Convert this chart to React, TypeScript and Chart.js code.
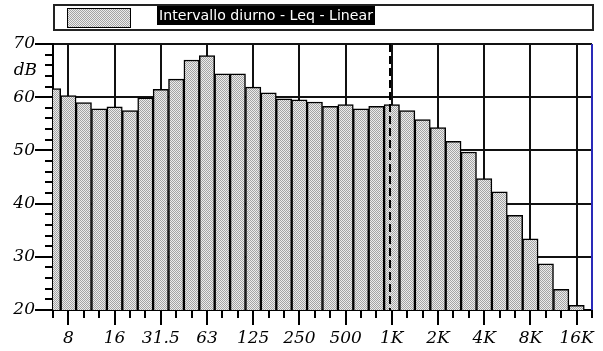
import React, { useEffect, useRef } from 'react';
import { Chart, registerables } from 'chart.js';

Chart.register(...registerables);

// One-third-octave band names (x positions are band indices); 20K closes the axis
const bands = ['6.3', '8', '10', '12.5', '16', '20', '25', '31.5', '40', '50', '63', '80', '100', '125', '160', '200', '250', '315', '400', '500', '630', '800', '1K', '1.25K', '1.6K', '2K', '2.5K', '3.15K', '4K', '5K', '6.3K', '8K', '10K', '12.5K', '16K', '20K'];
// Leq (dB, linear) per band, 6.3 Hz .. 16 kHz
const levels = [61.6, 60.3, 59.0, 57.8, 58.2, 57.5, 59.9, 61.5, 63.4, 67.0, 67.8, 64.4, 64.4, 61.9, 60.8, 59.7, 59.5, 59.1, 58.3, 58.6, 57.8, 58.3, 58.6, 57.5, 55.8, 54.3, 51.7, 49.7, 44.7, 42.2, 37.8, 33.4, 28.7, 23.9, 20.9];
const octaveLabels = ['8', '16', '31.5', '63', '125', '250', '500', '1K', '2K', '4K', '8K', '16K'];
const yMin = 20;
const yMax = 70;
const yStep = 10;
const yMinorStep = 2;
const unitLabel = 'dB';
const unitAt = 65;
const seriesLabel = 'Intervallo diurno - Leq - Linear';
const markerBand = '1K';

function makePattern(): CanvasPattern | string {
  const c = document.createElement('canvas');
  c.width = 2;
  c.height = 2;
  const g = c.getContext('2d');
  if (!g) return '#c4c4c4';
  g.fillStyle = '#ececec';
  g.fillRect(0, 0, 2, 2);
  g.fillStyle = '#a4a4a4';
  g.fillRect(0, 0, 1, 1);
  g.fillRect(1, 1, 1, 1);
  const p = g.createPattern(c, 'repeat');
  return p || '#c4c4c4';
}

const FONT = 'DejaVu Serif';

export default function App() {
  const ref = useRef<HTMLCanvasElement | null>(null);

  useEffect(() => {
    const canvas = ref.current;
    if (!canvas) return;
    const pattern = makePattern();

    const decor = {
      id: 'decor',
      afterDatasetsDraw(chart: any) {
        const { ctx, chartArea, scales } = chart;
        const x = scales.x;
        ctx.save();
        // dashed marker at 1K
        const mx = Math.round(x.getPixelForValue(bands.indexOf(markerBand)) - 2);
        ctx.strokeStyle = '#000';
        ctx.lineWidth = 2;
        ctx.setLineDash([8, 4]);
        ctx.beginPath();
        ctx.moveTo(mx, chartArea.top);
        ctx.lineTo(mx, chartArea.bottom);
        ctx.stroke();
        ctx.setLineDash([]);
        // blue right border
        ctx.strokeStyle = '#2a2ab8';
        ctx.lineWidth = 2;
        ctx.beginPath();
        ctx.moveTo(chartArea.right, chartArea.top);
        ctx.lineTo(chartArea.right, chartArea.bottom);
        ctx.stroke();
        ctx.restore();
      },
      afterDraw(chart: any) {
        const { ctx, chartArea, scales } = chart;
        const x = scales.x;
        const y = scales.y;
        ctx.save();
        ctx.strokeStyle = '#000';
        ctx.lineWidth = 2;
        ctx.beginPath();
        // minor x ticks at every band
        for (let i = 0; i < bands.length; i++) {
          const px = Math.round(x.getPixelForValue(i));
          ctx.moveTo(px, chartArea.bottom);
          ctx.lineTo(px, chartArea.bottom + 8);
        }
        // minor y ticks
        for (let v = yMin; v <= yMax; v += yMinorStep) {
          const py = Math.round(y.getPixelForValue(v));
          ctx.moveTo(chartArea.left - 8, py);
          ctx.lineTo(chartArea.left, py);
        }
        ctx.stroke();
        // unit label
        ctx.fillStyle = '#000';
        ctx.font = `italic 17px "${FONT}"`;
        ctx.textAlign = 'right';
        ctx.textBaseline = 'middle';
        ctx.fillText(unitLabel, chartArea.left - 16, y.getPixelForValue(unitAt));

        // legend box
        ctx.strokeStyle = '#222';
        ctx.lineWidth = 2;
        ctx.strokeRect(chartArea.left + 1, 5, chartArea.right - chartArea.left, 25);
        // swatch
        ctx.fillStyle = pattern as any;
        ctx.fillRect(67, 8, 64, 20);
        ctx.strokeStyle = '#000';
        ctx.lineWidth = 1;
        ctx.strokeRect(67.5, 8.5, 63, 19);
        // text on black
        ctx.font = '14px "DejaVu Sans"';
        const w = ctx.measureText(seriesLabel).width;
        const targetW = 214;
        ctx.fillStyle = '#000';
        ctx.fillRect(157, 6, targetW + 4, 19);
        ctx.save();
        ctx.translate(159, 16);
        ctx.scale(targetW / w, 1);
        ctx.fillStyle = '#fff';
        ctx.textAlign = 'left';
        ctx.textBaseline = 'middle';
        ctx.fillText(seriesLabel, 0, 0);
        ctx.restore();
        ctx.restore();
      },
    };

    const chart = new Chart(canvas, {
      type: 'bar',
      data: {
        datasets: [
          {
            label: seriesLabel,
            data: levels.map((v, i) => ({ x: i, y: v })),
            backgroundColor: pattern as any,
            borderColor: '#000',
            borderWidth: 1.5,
            barPercentage: 1,
            categoryPercentage: 1,
            clip: 0 as any,
          },
        ],
      },
      options: {
        responsive: false,
        animation: false,
        events: [],
        layout: { padding: { top: 44, right: 11, left: 0, bottom: 0 } },
        plugins: { legend: { display: false }, tooltip: { enabled: false } },
        scales: {
          x: {
            type: 'linear',
            min: 0,
            max: bands.length - 1,
            offset: false,
            grid: { offset: false, color: '#111', lineWidth: 2, tickLength: 15, tickColor: '#000' },
            border: { color: '#000', width: 2 },
            afterBuildTicks: (s: any) => {
              s.ticks = octaveLabels.map((l) => ({ value: bands.indexOf(l) }));
            },
            afterFit: (s: any) => {
              s.height = 41;
            },
            ticks: {
              autoSkip: false,
              maxRotation: 0,
              padding: 3,
              color: '#000',
              font: { family: FONT, size: 17, style: 'italic' },
              callback: (v: any) => bands[Math.round(Number(v))],
            },
          },
          y: {
            min: yMin,
            max: yMax,
            beginAtZero: false,
            grid: { color: '#111', lineWidth: 2, tickLength: 18, tickColor: '#000' },
            border: { color: '#000', width: 2 },
            afterFit: (s: any) => {
              s.width = 53;
            },
            ticks: {
              stepSize: yStep,
              padding: 0,
              color: '#000',
              font: { family: FONT, size: 17, style: 'italic' },
            },
          },
        },
      },
      plugins: [decor],
    });
    return () => chart.destroy();
  }, []);

  return (
    <div style={{ position: 'fixed', left: 0, top: 0, width: 603, height: 351, background: '#fff' }}>
      <canvas ref={ref} width={603} height={351} style={{ width: 603, height: 351, display: 'block' }} />
    </div>
  );
}
